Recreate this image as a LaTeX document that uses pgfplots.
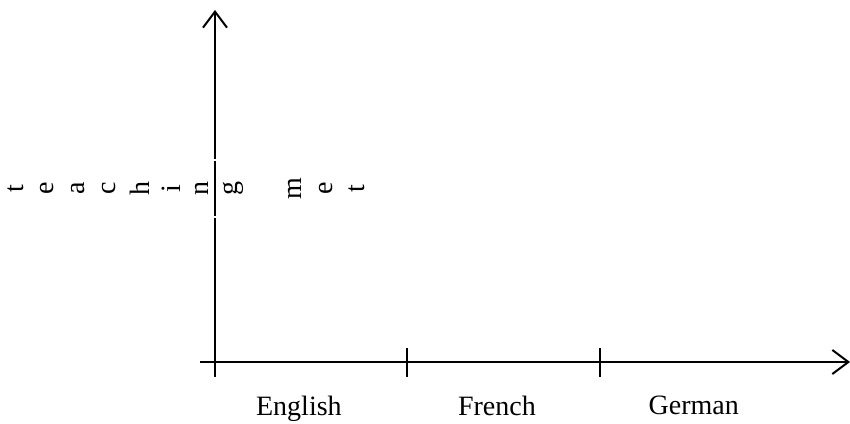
\documentclass[border=0pt]{standalone}
\usepackage{fontspec}
\setmainfont{Liberation Serif}
\usepackage{graphicx}
\usepackage{pgfplots}
\pgfplotsset{compat=1.18}
\usetikzlibrary{arrows.meta,calc}

% one letter, turned on its side and centred, in a fixed slot
\newcommand\rl[1]{\makebox[15.5pt]{\raisebox{-0.5\height}{\rotatebox{90}{#1}}}}

\begin{document}
\begin{tikzpicture}
\begin{axis}[
    scale only axis,
    width=317.5pt,
    height=176pt,
    xmin=0, xmax=3.3,
    ymin=0, ymax=1,
    axis x line=bottom,
    axis y line=left,
    x axis line style={-{Straight Barb[length=8pt,width=12pt,line width=1pt]}, line width=1pt},
    y axis line style={-{Straight Barb[length=8pt,width=12pt,line width=1pt]}, line width=1pt},
    xtick={0,1,2},
    xticklabels={},
    ytick={0},
    yticklabels={},
    tick align=center,
    major tick length=14.5pt,
    tick style={line width=1pt, black},
    extra x ticks={0.436,1.465,2.488},
    extra x tick labels={English,French,German},
    extra x tick style={major tick length=0pt,
        xticklabel style={yshift=-13.3pt, font=\fontsize{14}{17}\selectfont}},
    ylabel={\rl{t}\rl{e}\rl{a}\rl{c}\rl{h}\rl{i}\rl{n}\rl{g}\rl{}\rl{m}\rl{e}\rl{t}},
    ylabel style={rotate=-90, anchor=west, at={(axis description cs:-0.3394,0.4929)},
        inner sep=0pt, minimum height=28.5pt, draw=white, line width=1pt,
        font=\fontsize{14}{17}\selectfont},
    clip=false,
]
\coordinate (O) at (rel axis cs:0,0);
\end{axis}
\pgfresetboundingbox
\path ($(O)+(-107.5pt,-30.5pt)$) rectangle ($(O)+(317.5pt,181pt)$);
\end{tikzpicture}
\end{document}
